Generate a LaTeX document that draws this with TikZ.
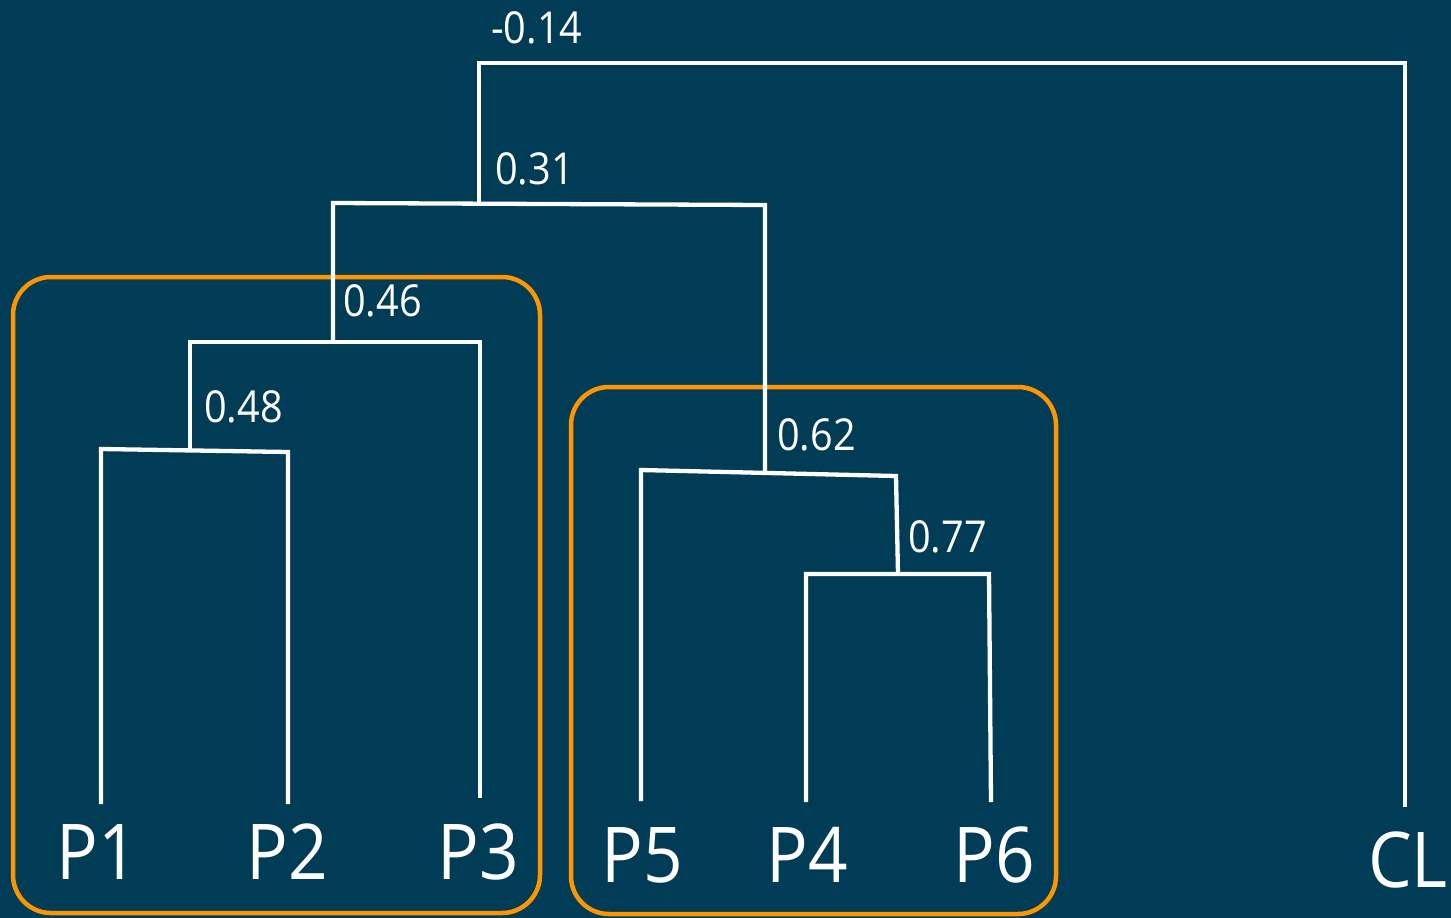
\documentclass[tikz,border=0pt]{standalone}
\usepackage{fontspec}
\setmainfont{Open Sans}[FakeStretch=0.9]
\definecolor{bgteal}{HTML}{003C56}
\definecolor{clusterorange}{HTML}{FF9500}
\begin{document}
\begin{tikzpicture}[x=1pt,y=-1pt,
  branch/.style={draw=white,line width=4.3pt,line join=miter},
  cluster/.style={draw=clusterorange,line width=4.5pt,rounded corners=38pt},
  score/.style={text=white,inner sep=0pt,anchor=base west,font=\fontsize{44}{44}\selectfont},
  leaf/.style={text=white,inner sep=0pt,anchor=base,font=\fontsize{77}{77}\selectfont}]
  % canvas
  \fill[bgteal] (0,0) rectangle (1451,918);
  \useasboundingbox (0,0) rectangle (1451,918);

  % cluster frames
  \draw[cluster] (13,277) rectangle (540,913);
  \draw[cluster] (571,387) rectangle (1056,914);

  % leaf labels
  \node[leaf] (P1) at (97,879) {P1};
  \node[leaf] (P2) at (287,879) {P2};
  \node[leaf] (P3) at (478,879) {P3};
  \node[leaf] (P5) at (642,882) {P5};
  \node[leaf] (P4) at (807,882) {P4};
  \node[leaf] (P6) at (994,882) {P6};
  \node[leaf,anchor=base west] (CL) at (1368,887) {CL};

  % leaf line ends
  \coordinate (l1) at (101,804);
  \coordinate (l2) at (288,804);
  \coordinate (l3) at (480,798);
  \coordinate (l5) at (641,801);
  \coordinate (l4) at (806,802);
  \coordinate (l6) at (991,802);
  \coordinate (lc) at (1405,807);

  % merge bars
  \coordinate (a48) at (101,449);  \coordinate (b48) at (288,452);  \coordinate (s48) at (190,450.5);
  \coordinate (a46) at (190,342);  \coordinate (b46) at (480,342);  \coordinate (s46) at (333,342);
  \coordinate (a77) at (806,574);  \coordinate (b77) at (989,574);  \coordinate (s77) at (898,574);
  \coordinate (a62) at (641,470);  \coordinate (b62) at (896,476);  \coordinate (s62) at (765,473);
  \coordinate (a31) at (333,203);  \coordinate (b31) at (765,205);  \coordinate (s31) at (479,203.5);
  \coordinate (a14) at (479,63);   \coordinate (b14) at (1405,63);

  % dendrogram branches
  \draw[branch] (l1) -- (a48) -- (b48) -- (l2);
  \draw[branch] (s48) -- (a46) -- (b46) -- (l3);
  \draw[branch] (s46) -- (a31) -- (b31) -- (s62);
  \draw[branch] (l4) -- (a77) -- (b77) -- (l6);
  \draw[branch] (l5) -- (a62) -- (b62) -- (s77);
  \draw[branch] (s31) -- (a14) -- (b14) -- (lc);

  % similarity scores
  \node[score] (v14) at (491,43) {-0.14};
  \node[score] (v31) at (495,184) {0.31};
  \node[score] (v46) at (343,316) {0.46};
  \node[score] (v48) at (204,422) {0.48};
  \node[score] (v62) at (777,450) {0.62};
  \node[score] (v77) at (908,552) {0.77};
\end{tikzpicture}
\end{document}
